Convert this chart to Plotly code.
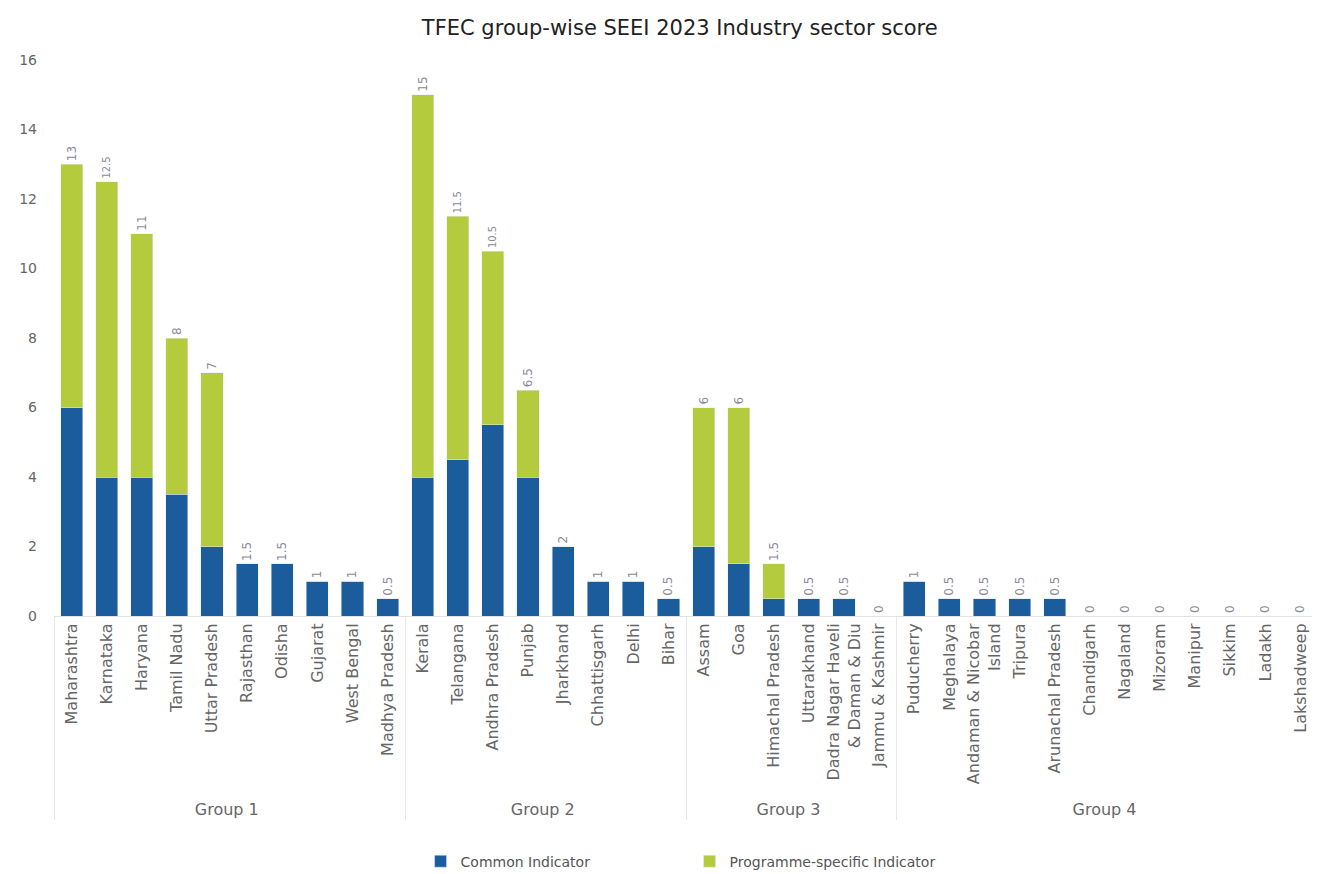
import plotly.graph_objects as go

GROUPS = ["Group 1"] * 10 + ["Group 2"] * 8 + ["Group 3"] * 6 + ["Group 4"] * 12
STATES = [
    "Maharashtra", "Karnataka", "Haryana", "Tamil Nadu", "Uttar Pradesh",
    "Rajasthan", "Odisha", "Gujarat", "West Bengal", "Madhya Pradesh",
    "Kerala", "Telangana", "Andhra Pradesh", "Punjab", "Jharkhand",
    "Chhattisgarh", "Delhi", "Bihar",
    "Assam", "Goa", "Himachal Pradesh", "Uttarakhand",
    "Dadra Nagar Haveli<br>& Daman & Diu", "Jammu & Kashmir",
    "Puducherry", "Meghalaya", "Andaman & Nicobar<br>Island", "Tripura",
    "Arunachal Pradesh", "Chandigarh", "Nagaland", "Mizoram", "Manipur",
    "Sikkim", "Ladakh", "Lakshadweep",
]
COMMON = [6, 4, 4, 3.5, 2, 1.5, 1.5, 1, 1, 0.5,
          4, 4.5, 5.5, 4, 2, 1, 1, 0.5,
          2, 1.5, 0.5, 0.5, 0.5, 0,
          1, 0.5, 0.5, 0.5, 0.5, 0, 0, 0, 0, 0, 0, 0]
PROGRAMME = [7, 8.5, 7, 4.5, 5, 0, 0, 0, 0, 0,
             11, 7, 5, 2.5, 0, 0, 0, 0,
             4, 4.5, 1, 0, 0, 0,
             0, 0, 0, 0, 0, 0, 0, 0, 0, 0, 0, 0]
TOTAL = [c + p for c, p in zip(COMMON, PROGRAMME)]

BLUE = "#1b5d9c"
GREEN = "#b3cb3c"
FONT = "DejaVu Sans, Verdana, sans-serif"

x = [GROUPS, STATES]
fig = go.Figure()
fig.add_trace(go.Bar(x=x, y=COMMON, name="Common Indicator", marker_color=BLUE))
fig.add_trace(go.Bar(
    x=x, y=PROGRAMME, name="Programme-specific Indicator", marker_color=GREEN,
    text=[f"{t:g}" for t in TOTAL], textposition="outside", textangle=-90,
    textfont=dict(color="#8a8a9a", size=12), cliponaxis=False,
))

# page body has an 8px margin, so the figure is a bit smaller than the window
fig.update_layout(
    title=dict(text="TFEC group-wise SEEI 2023 Industry sector score",
               x=0.512, xanchor="center", y=0.977, yanchor="middle",
               font=dict(size=21, color="#222")),
    barmode="stack", bargap=0.37,
    width=1312, height=866,
    margin=dict(l=46, r=2, t=52, b=258, autoexpand=False),
    plot_bgcolor="white", paper_bgcolor="white",
    font=dict(family=FONT, size=13, color="#666"),
    legend=dict(orientation="h", traceorder="normal", x=0.29, xanchor="left",
                y=-0.413, yanchor="top", font=dict(size=14, color="#555"),
                entrywidth=224, itemwidth=30),
    showlegend=True,
)
fig.update_xaxes(tickangle=-90, showdividers=True, dividercolor="#e8e8e8",
                 tickfont=dict(size=16, color="#666"), showgrid=False,
                 linecolor="#e2e2e2", showline=True, automargin=False)
fig.update_yaxes(range=[0, 16], dtick=2, showgrid=False, zeroline=False,
                 tickfont=dict(size=14, color="#666"), automargin=False,
                 ticklabelstandoff=16)

fig.write_html("out.html")
